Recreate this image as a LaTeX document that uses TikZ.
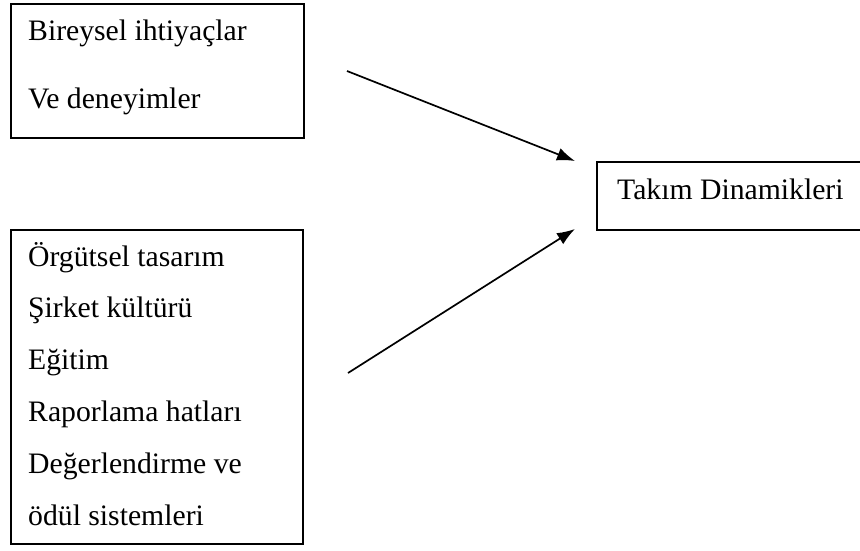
\documentclass[tikz,border=0pt]{standalone}
\usepackage{fontspec}
\setmainfont{Liberation Serif}
\usetikzlibrary{arrows.meta}
\begin{document}
\begin{tikzpicture}[x=1pt,y=-1pt,
  box/.style={draw=black,line width=1.7pt,rectangle,inner sep=0pt,anchor=north west},
  line/.style={anchor=base west,inner sep=0pt,font=\fontsize{29.7}{32}\selectfont},
  arr/.style={line width=1.7pt,-{Latex[length=18pt,width=13pt]}}]
\clip (0,0) rectangle (860,550);
% left boxes
\node[box,minimum width=293pt,minimum height=134pt] (indiv) at (10,3) {};
\node[box,minimum width=292pt,minimum height=314pt] (org) at (10,229) {};
% right box, open on the right
\node[box,minimum width=280pt,minimum height=68pt] (team) at (596,161) {};
% texts
\node[line] (t1) at (28,40) {Bireysel ihtiyaçlar};
\node[line] (t2) at (28,108) {Ve deneyimler};
\node[line] (o1) at (28,266) {Örgütsel tasarım};
\node[line] (o2) at (28,317.8) {Şirket kültürü};
\node[line] (o3) at (28,369.6) {Eğitim};
\node[line] (o4) at (28,421.4) {Raporlama hatları};
\node[line] (o5) at (28,473.2) {Değerlendirme ve};
\node[line] (o6) at (28,525) {ödül sistemleri};
\node[line] (tt) at (617,199) {Takım Dinamikleri};
% connectors
\coordinate (a1) at (347,71);
\coordinate (a2) at (348,373);
\coordinate (h1) at (575,161);
\coordinate (h2) at (575,229);
\draw[arr] (a1) -- (h1);
\draw[arr] (a2) -- (h2);
\end{tikzpicture}
\end{document}
